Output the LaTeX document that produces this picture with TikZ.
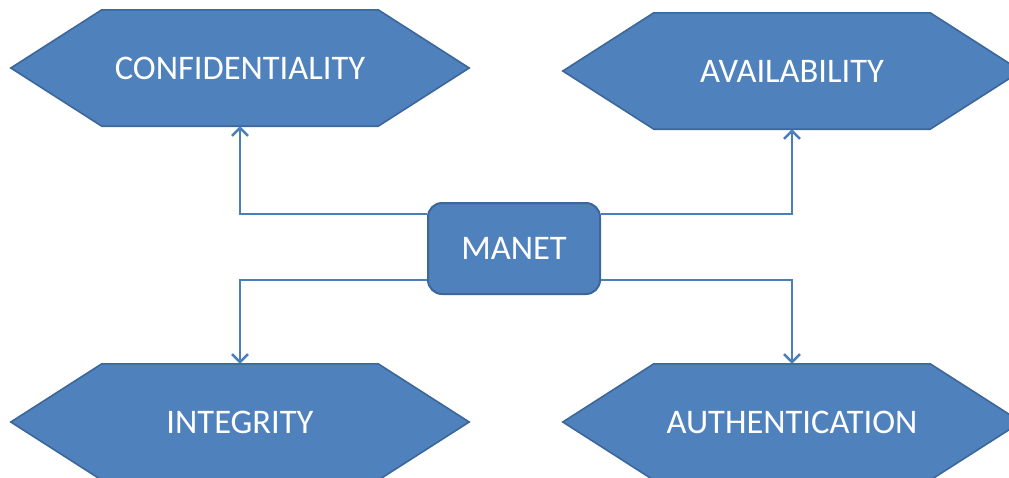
\documentclass[tikz,border=0pt]{standalone}
\usepackage{fontspec}
\setmainfont{Carlito}
\usetikzlibrary{arrows.meta,calc,backgrounds}
\definecolor{boxfill}{HTML}{4F81BD}
\definecolor{boxedge}{HTML}{3C679A}
\definecolor{linkcol}{HTML}{4A7EBB}
\begin{document}
\begin{tikzpicture}[x=1pt,y=-1pt,
  label text/.style={text=white,font=\fontsize{34.5}{40}\selectfont},
  hexcore/.style={label text,minimum width=276pt,minimum height=116pt,inner sep=0pt},
  hexshape/.style={fill=boxfill,draw=boxedge,line width=1.6pt,line join=miter},
  centerbox/.style={label text,fill=boxfill,draw=boxedge,line width=2pt,rounded corners=14pt,
    minimum width=172pt,minimum height=91pt,inner sep=0pt},
  link/.style={draw=linkcol,line width=2.8pt,-{Straight Barb[length=8pt,width=16pt,line width=2.5pt]}}]
\useasboundingbox (0,0) rectangle (1009,477);

% central node
\node[centerbox] (manet) at (514,248.5) {MANET};

% the four properties, each on a hexagon
\node[hexcore] (conf)  at (240,68)  {CONFIDENTIALITY};
\node[hexcore] (avail) at (792,71)  {AVAILABILITY};
\node[hexcore] (integ) at (240,422) {INTEGRITY};
\node[hexcore] (auth)  at (792,422) {AUTHENTICATION};

\begin{scope}[on background layer]
  \foreach \n in {conf,avail,integ,auth}{
    \draw[hexshape] (\n.north west) -- (\n.north east) -- ($(\n.east)+(91,0)$)
      -- (\n.south east) -- (\n.south west) -- ($(\n.west)+(-91,0)$) -- cycle;
  }
\end{scope}

% connectors from the centre to each property
\begin{scope}[on background layer]
\draw[link] ($(manet.north west)+(0,12)$) -| (conf.south);
\draw[link] ($(manet.north east)+(0,12)$) -| (avail.south);
\draw[link] ($(manet.south west)+(0,-15)$) -| (integ.north);
\draw[link] ($(manet.south east)+(0,-15)$) -| (auth.north);
\end{scope}
\end{tikzpicture}
\end{document}
